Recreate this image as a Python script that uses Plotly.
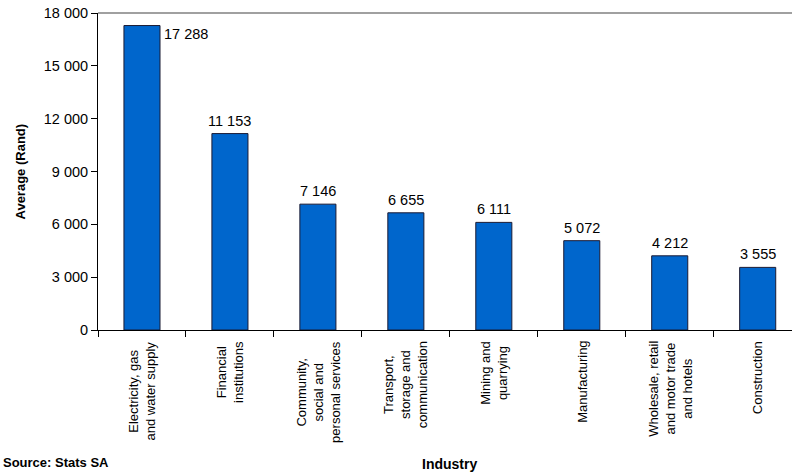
import plotly.graph_objects as go

categories = [
    "Electricity, gas<br>and water supply",
    "Financial<br>institutions",
    "Community,<br>social and<br>personal services",
    "Transport,<br>storage and<br>communication",
    "Mining and<br>quarrying",
    "Manufacturing",
    "Wholesale, retail<br>and motor trade<br>and hotels",
    "Construction",
]
values = [17288, 11153, 7146, 6655, 6111, 5072, 4212, 3555]
y_ticks = [0, 3000, 6000, 9000, 12000, 15000, 18000]

W, H = 792, 472
L, R, T, B = 98, 0, 13, 142
plot_h = H - T - B

def py(pix):
    """pixel y (from top) -> paper y"""
    return (H - B - pix) / plot_h

def px(pix):
    return (pix - L) / (W - L - R)

xs = list(range(len(categories)))
bar_w = 0.41

fig = go.Figure()
fig.add_trace(go.Bar(
    x=xs, y=values, width=bar_w,
    marker=dict(color="#0066CC", line=dict(color="#1a1a33", width=1)),
    hoverinfo="skip",
))

ann = []
# value labels
for i, v in enumerate(values):
    txt = f"{v:,}".replace(",", " ")
    if i == 0:
        ann.append(dict(x=i + bar_w / 2, y=v, xref="x", yref="y", text=txt,
                        xanchor="left", yanchor="top", xshift=2, yshift=2,
                        showarrow=False,
                        font=dict(family="Liberation Sans, Arial", size=14.5, color="#000")))
    else:
        ann.append(dict(x=i, y=v, xref="x", yref="y", text=txt,
                        xanchor="center", yanchor="bottom", yshift=3,
                        showarrow=False,
                        font=dict(family="Liberation Sans, Arial", size=14.5, color="#000")))
# category labels
for i, c in enumerate(categories):
    ann.append(dict(x=i, y=py(339), xref="x", yref="paper", text=c,
                    textangle=-90, xanchor="center", yanchor="top", align="center",
                    showarrow=False,
                    font=dict(family="Liberation Sans, Arial", size=13, color="#000")))
# axis titles
ann.append(dict(x=px(20), y=py(171.5), xref="paper", yref="paper", text="<b>Average (Rand)</b>",
                textangle=-90, xanchor="center", yanchor="middle", showarrow=False,
                font=dict(family="Liberation Sans, Arial", size=13, color="#000")))
ann.append(dict(x=3.5, y=py(463.5), xref="x", yref="paper", text="<b>Industry</b>",
                xanchor="center", yanchor="middle", showarrow=False,
                font=dict(family="Liberation Sans, Arial", size=14, color="#000")))
ann.append(dict(x=px(1), y=py(472), xref="paper", yref="paper", text="<b>Source: Stats SA</b>",
                xanchor="left", yanchor="bottom", showarrow=False,
                font=dict(family="Liberation Sans, Arial", size=13, color="#000")))

fig.update_layout(
    width=W, height=H,
    margin=dict(l=L, r=R, t=T, b=B, pad=0),
    paper_bgcolor="white", plot_bgcolor="white",
    showlegend=False,
    separators=". ",
    annotations=ann,
    shapes=[dict(type="line", xref="paper", yref="paper", x0=0, x1=1, y0=1, y1=1,
                 line=dict(color="#808080", width=1.5))],
    xaxis=dict(
        type="linear", range=[-0.5, 7.39], showticklabels=False,
        tickmode="array", tickvals=[k + 0.5 for k in range(-1, 8)],
        ticks="outside", ticklen=6, tickcolor="#000", tickwidth=1,
        showline=True, linecolor="#000", linewidth=1,
        showgrid=False, zeroline=False, fixedrange=True,
    ),
    yaxis=dict(
        range=[0, 18000], tickmode="array", tickvals=y_ticks,
        tickformat=",.0f",
        ticks="outside", ticklen=6, tickcolor="#000", tickwidth=1,
        showline=True, linecolor="#000", linewidth=1,
        showgrid=False, zeroline=False,
        tickfont=dict(family="Liberation Sans, Arial", size=14.5, color="#000"),
        fixedrange=True,
    ),
)

fig.write_html(
    "out.html",
    config={"displayModeBar": False},
    post_script="document.body.style.margin='0';document.body.style.overflow='hidden';",
)
